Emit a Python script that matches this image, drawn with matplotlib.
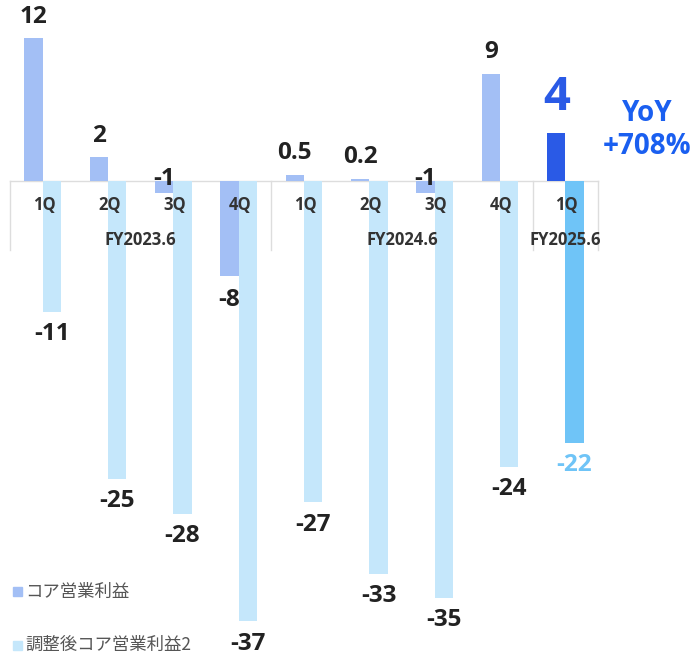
import matplotlib
matplotlib.use("Agg")
import matplotlib.pyplot as plt
from matplotlib.patches import Rectangle

quarters = ["1Q", "2Q", "3Q", "4Q", "1Q", "2Q", "3Q", "4Q", "1Q"]
fiscal_years = ["FY2023.6", "FY2024.6", "FY2025.6"]
fy_sizes = [4, 4, 1]
core_op = [12, 2, -1, -8, 0.5, 0.2, -1, 9, 4]
core_op_labels = ["12", "2", "-1", "-8", "0.5", "0.2", "-1", "9", "4"]
adj_core_op = [-11, -25, -28, -37, -27, -33, -35, -24, -22]
adj_labels = ["-11", "-25", "-28", "-37", "-27", "-33", "-35", "-24", "-22"]
legend_names = ["コア営業利益", "調整後コア営業利益2"]
yoy_text = "YoY\n+708%"

C_CORE = "#a3bff5"
C_ADJ = "#c5e7fb"
C_CORE_HI = "#2a5ae6"
C_ADJ_HI = "#6fc4f7"
C_TEXT = "#222222"
C_YOY = "#1a5ff0"

plt.rcParams["font.family"] = ["Open Sans", "Noto Sans CJK JP", "DejaVu Sans"]

fig = plt.figure(figsize=(7.0, 6.56), dpi=100)
ax = fig.add_axes([0, 0, 1, 1])
ax.set_xlim(-0.653, 10.061)
ax.set_ylim(-39.9, 15.2)
ax.axis("off")

n = len(quarters)
bw = 0.28
xs = list(range(n))
core_colors = [C_CORE] * (n - 1) + [C_CORE_HI]
adj_colors = [C_ADJ] * (n - 1) + [C_ADJ_HI]

ax.bar([x - bw / 2 for x in xs], core_op, width=bw, color=core_colors, zorder=2)
ax.bar([x + bw / 2 for x in xs], adj_core_op, width=bw, color=adj_colors, zorder=2)

# axis line and group separators
ax.plot([-0.5, n - 0.5], [0, 0], color="#dddddd", lw=1, zorder=1)
start = -0.5
bounds = [start]
for s in fy_sizes:
    start += s
    bounds.append(start)
for b in bounds:
    ax.plot([b, b], [0, -5.8], color="#dddddd", lw=1, zorder=1)

# tick labels
for x, q in zip(xs, quarters):
    ax.text(x + 0.02, -2.0, q, ha="center", va="center", fontsize=12,
            fontweight="bold", color="#333333", zorder=3)
for i, fy in enumerate(fiscal_years):
    c = (bounds[i] + bounds[i + 1]) / 2
    ax.text(c, -5.0, fy, ha="center", va="center", fontsize=12,
            fontweight="bold", color="#333333", zorder=3)

# value labels core
for i, (x, v, lab) in enumerate(zip(xs, core_op, core_op_labels)):
    cx = x - bw / 2
    if i == n - 1:
        ax.text(cx, v + 1.0, lab, ha="center", va="bottom", fontsize=34,
                fontweight="bold", color=C_CORE_HI, zorder=4)
    elif v >= 0:
        ax.text(cx, v + 0.8, lab, ha="center", va="bottom", fontsize=17.5,
                fontweight="bold", color=C_TEXT, zorder=4)
    elif v > -2:
        ax.text(cx, 0.15, lab, ha="center", va="center", fontsize=17.5,
                fontweight="bold", color=C_TEXT, zorder=4)
    else:
        ax.text(cx, v - 1.0, lab, ha="center", va="top", fontsize=17.5,
                fontweight="bold", color=C_TEXT, zorder=4)

# value labels adjusted
for i, (x, v, lab) in enumerate(zip(xs, adj_core_op, adj_labels)):
    cx = x + bw / 2
    col = C_ADJ_HI if i == n - 1 else C_TEXT
    ax.text(cx, v - 0.85, lab, ha="center", va="top", fontsize=17.5,
            fontweight="bold", color=col, zorder=4)

# YoY annotation
ax.text(9.25, 4.3, yoy_text, ha="center", va="center", fontsize=20,
        fontweight="bold", color=C_YOY, linespacing=1.2)

# legend
leg_y = [-34.5, -39.0]
for y, name, col in zip(leg_y, legend_names, [C_CORE, C_ADJ]):
    ax.add_patch(Rectangle((-0.45, y - 0.38), 0.14, 0.76, color=col))
    ax.text(-0.27, y, name, ha="left", va="center", fontsize=12.5,
            color="#555555", family=["Noto Sans CJK JP", "DejaVu Sans"])

fig.savefig("out.png", dpi=100)
